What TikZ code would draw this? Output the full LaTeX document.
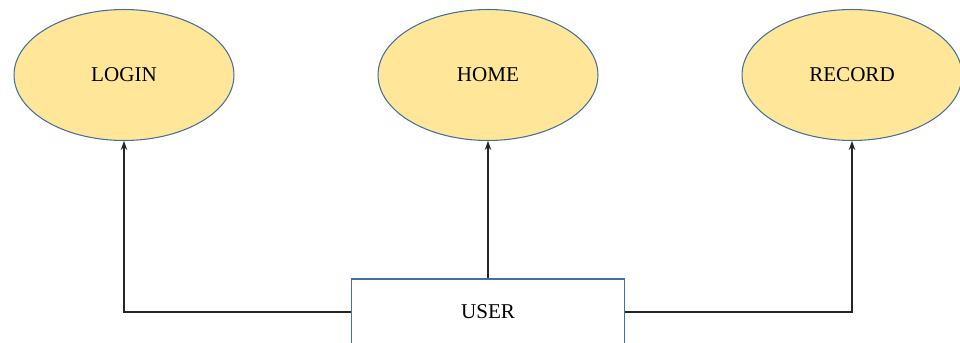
\documentclass[tikz,border=0pt]{standalone}
\usepackage{fontspec}
\setmainfont{Liberation Serif}
\usetikzlibrary{shapes.geometric,arrows.meta}
\definecolor{ovalfill}{HTML}{FFE699}
\definecolor{ovalline}{HTML}{41719C}
\definecolor{linkline}{HTML}{262626}
\tikzset{
  usecase/.style={ellipse, draw=ovalline, fill=ovalfill, line width=0.6pt,
    minimum width=4.4cm, minimum height=2.62cm, font=\fontsize{12}{14}\selectfont},
  actorbox/.style={rectangle, draw=ovalline, fill=white, line width=0.6pt,
    minimum width=5.46cm, minimum height=1.32cm, font=\fontsize{12}{14}\selectfont},
  link/.style={draw=linkline, line width=0.6pt, -{Stealth[length=1.8mm,width=1.3mm]}}
}
\begin{document}
\begin{tikzpicture}[x=0.02cm,y=-0.02cm]
      \useasboundingbox (0,0) rectangle (960,342);
      \node[usecase] (login) at (124,75) {LOGIN};
      \node[usecase] (home) at (488,75) {HOME};
      \node[usecase] (record) at (852,75) {RECORD};
      \node[actorbox] (user) at (488,312) {USER};
      \begin{scope}[link]
        \draw (user.west) -| (login.south);
        \draw (user.north) -- (home.south);
        \draw (user.east) -| (record.south);
      \end{scope}
    \end{tikzpicture}
\end{document}
